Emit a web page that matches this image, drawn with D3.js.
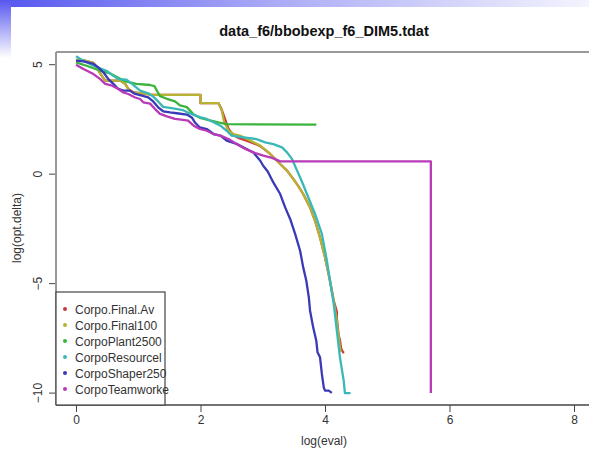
<!DOCTYPE html>
<html>
<head>
<meta charset="utf-8">
<script src="https://cdn.jsdelivr.net/npm/d3@7"></script>
<style>
body{margin:0;background:#fff;}
text{font-family:"Liberation Sans",Arial,sans-serif;}
</style>
</head>
<body>
<div id="canvas"></div>
<script>
//series data, [log(eval), log(opt.delta)]
var finalAv = [[0,5.2],[0.14,5.16],[0.28,5.06],[0.33,4.88],[0.39,4.57],[0.47,4.25],[0.71,4.25],[0.79,4.10],[0.84,3.87],[0.92,3.71],[1.13,3.64],[1.21,3.60],[2.0,3.60],[2.0,3.22],[2.29,3.22],[2.33,3.0],[2.40,2.45],[2.45,2.05],[2.52,1.78],[2.62,1.62],[2.75,1.5],[2.90,1.33],[2.96,1.26],[3.12,0.9],[3.28,0.44],[3.39,0.14],[3.49,-0.24],[3.58,-0.6],[3.65,-0.93],[3.76,-1.54],[3.84,-2.15],[3.92,-2.91],[4.0,-3.82],[4.07,-4.74],[4.14,-5.8],[4.19,-6.3],[4.19,-6.6],[4.22,-7.4],[4.24,-7.6],[4.26,-8.0],[4.29,-8.16],[4.31,-8.16]];
var final100 = [[0,5.2],[0.14,5.16],[0.28,5.06],[0.33,4.88],[0.39,4.57],[0.47,4.25],[0.71,4.25],[0.79,4.10],[0.84,3.87],[0.92,3.71],[1.13,3.64],[1.21,3.60],[2.0,3.60],[2.0,3.22],[2.29,3.22],[2.34,2.9],[2.38,2.35],[2.45,1.97],[2.53,1.81],[2.66,1.71],[2.80,1.51],[2.96,1.28],[3.12,0.90],[3.28,0.44],[3.39,0.14],[3.49,-0.24],[3.58,-0.6],[3.65,-0.93],[3.76,-1.54],[3.84,-2.15],[3.92,-2.91],[4.0,-3.82],[4.07,-4.74],[4.14,-5.8],[4.18,-6.57],[4.22,-7.47],[4.25,-8.15]];
var plant2500 = [[0,5.08],[0.17,4.93],[0.39,4.70],[0.55,4.58],[0.68,4.38],[0.81,4.2],[0.97,4.1],[1.19,4.05],[1.26,4.0],[1.30,3.79],[1.35,3.54],[1.46,3.42],[1.59,3.3],[1.67,3.12],[1.78,3.04],[1.88,2.73],[1.99,2.55],[2.10,2.47],[2.20,2.4],[2.30,2.33],[2.42,2.26],[3.86,2.24]];
var resource = [[0,5.36],[0.07,5.24],[0.28,4.93],[0.49,4.70],[0.60,4.47],[0.68,4.32],[0.81,4.29],[0.9,4.1],[1.03,3.79],[1.16,3.67],[1.24,3.52],[1.32,3.3],[1.40,3.05],[1.56,2.98],[1.72,2.9],[1.83,2.75],[1.99,2.58],[2.10,2.50],[2.21,2.35],[2.32,2.19],[2.42,1.96],[2.50,1.74],[2.69,1.66],[2.90,1.58],[3.04,1.43],[3.17,1.35],[3.31,1.20],[3.39,0.97],[3.47,0.67],[3.55,0.15],[3.62,-0.3],[3.71,-0.93],[3.84,-1.84],[3.95,-2.75],[4.03,-3.97],[4.08,-4.89],[4.14,-5.95],[4.19,-7.17],[4.24,-8.39],[4.30,-9.45],[4.32,-10.02],[4.41,-10.02]];
var shaper250 = [[0,5.16],[0.12,5.13],[0.28,5.01],[0.36,4.85],[0.44,4.63],[0.52,4.32],[0.60,4.1],[0.68,3.87],[0.76,3.79],[0.87,3.79],[0.95,3.64],[1.06,3.56],[1.16,3.49],[1.24,3.3],[1.32,3.03],[1.40,2.85],[1.51,2.80],[1.62,2.76],[1.78,2.70],[1.86,2.57],[1.91,2.34],[1.99,2.11],[2.10,2.04],[2.21,1.81],[2.32,1.74],[2.42,1.51],[2.58,1.36],[2.74,1.13],[2.85,0.97],[2.96,0.59],[3.01,0.35],[3.08,0.1],[3.17,-0.40],[3.28,-0.93],[3.36,-1.54],[3.44,-2.07],[3.52,-2.75],[3.60,-3.52],[3.65,-4.28],[3.70,-4.89],[3.74,-5.65],[3.76,-6.26],[3.81,-7.02],[3.86,-7.63],[3.88,-8.16],[3.92,-8.39],[3.95,-9.15],[3.98,-9.76],[4.0,-9.91],[4.06,-9.91],[4.11,-10.01]];
var teamworke = [[0,4.98],[0.12,4.78],[0.28,4.55],[0.39,4.32],[0.47,4.1],[0.58,4.02],[0.68,3.87],[0.76,3.71],[0.84,3.64],[0.95,3.48],[1.03,3.41],[1.08,3.26],[1.19,3.2],[1.27,2.95],[1.35,2.73],[1.46,2.62],[1.59,2.50],[1.72,2.46],[1.80,2.42],[1.89,2.19],[1.99,2.04],[2.10,1.96],[2.21,1.81],[2.32,1.74],[2.45,1.58],[2.58,1.36],[2.72,1.13],[2.85,0.97],[3.01,0.82],[3.15,0.72],[3.28,0.56],[5.70,0.56],[5.70,-10.02]];

var seriesNames = ['Corpo.Final.Av','Corpo.Final100','CorpoPlant2500','CorpoResourcel','CorpoShaper250','CorpoTeamworke'];
var seriesData = [finalAv, final100, plant2500, resource, shaper250, teamworke];
var seriesColors = ['#c93a3a','#b8b232','#3ab43a','#3ab8b8','#3a3ab8','#b83ab8'];
var xTicks = [0,2,4,6,8];
var yTicks = [-10,-5,0,5];

var W = 589, H = 450;
var m = {t:52, l:56, b:405, r:593.6};

var svg = d3.select('#canvas')
    .append('svg')
    .attr('width',W)
    .attr('height',H);

//slide decoration in the corner
var defs = svg.append('defs');
var gTop = defs.append('linearGradient').attr('id','gtop');
gTop.append('stop').attr('offset','0').attr('stop-color','#5656ef');
gTop.append('stop').attr('offset','0.45').attr('stop-color','#a8a8f6');
gTop.append('stop').attr('offset','1').attr('stop-color','#f4f4fe');
var gLeft = defs.append('linearGradient').attr('id','gleft')
    .attr('x1',0).attr('y1',0).attr('x2',0).attr('y2',1);
gLeft.append('stop').attr('offset','0').attr('stop-color','#5656ef');
gLeft.append('stop').attr('offset','1').attr('stop-color','#ffffff');

svg.append('rect').attr('x',0).attr('y',0).attr('width',W).attr('height',7).attr('fill','url(#gtop)');
svg.append('rect').attr('x',0).attr('y',0).attr('width',11).attr('height',58).attr('fill','url(#gleft)');

var scaleX = d3.scaleLinear().domain([0,8]).range([76,574]);
var scaleY = d3.scaleLinear().domain([5,-10]).range([64.2,392.6]);

//title
svg.append('text')
    .attr('x',324).attr('y',36)
    .attr('text-anchor','middle')
    .style('font-size','14.5px').style('font-weight','bold').style('fill','#111')
    .text('data_f6/bbobexp_f6_DIM5.tdat');

//axes
var axisX = d3.axisBottom(scaleX).tickValues(xTicks).tickSize(7).tickPadding(3);
var axisY = d3.axisLeft(scaleY).tickValues(yTicks).tickSize(7).tickFormat(d3.format('d'));

var gx = svg.append('g').attr('transform','translate(0,'+m.b+')').call(axisX);
gx.select('.domain').remove();
gx.selectAll('.tick line').attr('stroke','#444');
gx.selectAll('.tick text').style('font-size','12px').style('fill','#333').attr('y',10);

var gy = svg.append('g').attr('transform','translate('+m.l+',0)').call(axisY);
gy.select('.domain').remove();
gy.selectAll('.tick line').attr('stroke','#444');
gy.selectAll('.tick text')
    .style('font-size','12px').style('fill','#333')
    .attr('x',0).attr('dy',0)
    .attr('text-anchor','middle')
    .attr('transform','translate(-14,0) rotate(-90)');

//plot box
svg.append('line').attr('x1',m.l).attr('x2',W).attr('y1',m.t).attr('y2',m.t)
    .attr('stroke','#999').attr('stroke-width',2);
svg.append('line').attr('x1',m.l).attr('x2',m.l).attr('y1',m.t).attr('y2',m.b)
    .attr('stroke','#999').attr('stroke-width',2);
svg.append('line').attr('x1',m.l).attr('x2',W).attr('y1',m.b).attr('y2',m.b)
    .attr('stroke','#444').attr('stroke-width',1.5);

//axis labels
svg.append('text').attr('x',324).attr('y',445).attr('text-anchor','middle')
    .style('font-size','12px').style('fill','#333').text('log(eval)');
svg.append('text').attr('transform','translate(21,228) rotate(-90)').attr('text-anchor','middle')
    .style('font-size','12px').style('fill','#333').text('log(opt.delta)');

//lines
var line = d3.line()
    .x(function(d){return scaleX(d[0]);})
    .y(function(d){return scaleY(d[1]);});

svg.selectAll('.series')
    .data(seriesData)
    .enter()
    .append('path')
    .attr('class','series')
    .attr('d',line)
    .attr('fill','none')
    .attr('stroke',function(d,i){return seriesColors[i];})
    .attr('stroke-width',2.3)
    .attr('stroke-linejoin','round');

//legend
var legend = svg.append('g');
legend.append('rect')
    .attr('x',m.l).attr('y',292).attr('width',109).attr('height',m.b-292)
    .attr('fill','#fff').attr('stroke','#444').attr('stroke-width',1.2);
var items = legend.selectAll('.item')
    .data(seriesNames)
    .enter()
    .append('g')
    .attr('class','item')
    .attr('transform',function(d,i){return 'translate(0,'+(309+i*16)+')';});
items.append('circle').attr('cx',65).attr('cy',0).attr('r',2)
    .attr('fill',function(d,i){return seriesColors[i];});
items.append('text').attr('x',75).attr('y',4.5)
    .style('font-size','12px').style('fill','#333')
    .text(function(d){return d;});
</script>
</body>
</html>
